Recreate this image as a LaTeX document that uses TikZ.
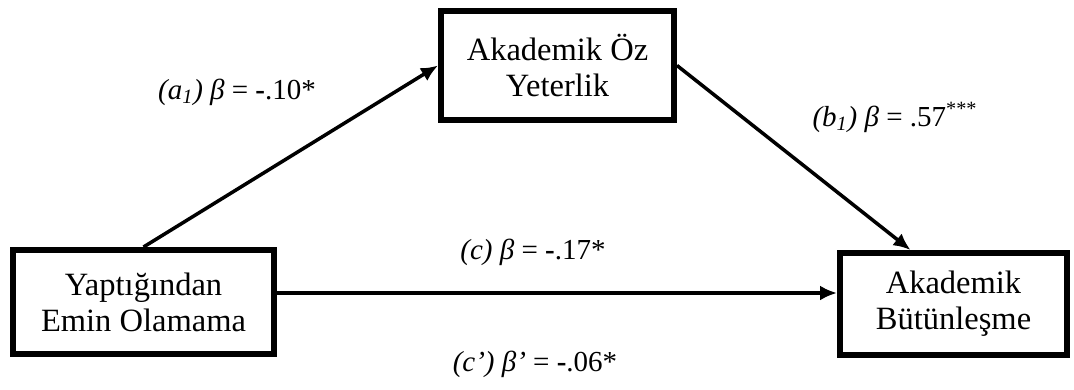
\documentclass[tikz,border=0pt]{standalone}
\usepackage{fontspec}
\setmainfont{Liberation Serif}
\usepackage{tikz}
\usetikzlibrary{arrows.meta, positioning, calc}
\newcommand{\boxfont}{\fontsize{18.5}{20.5}\selectfont}
\newcommand{\coeffont}{\fontsize{16.5}{18}\selectfont}

\begin{document}
\begin{tikzpicture}[
  box/.style={rectangle, draw, line width=3.4pt, inner sep=0pt, minimum height=2.1cm, align=center, font=\boxfont},
  path/.style={-{Latex[length=3.4mm, width=3mm]}, line width=2pt},
  coef/.style={font=\coeffont, inner sep=0pt},
]
  \useasboundingbox (0,0) rectangle (21.48,-7.8);

  \node[box, minimum width=4.66cm, minimum height=2.18cm] (selfeff) at (11.15,-1.31) {Akademik Öz\\Yeterlik};
  \node[box, minimum width=5.22cm, minimum height=2.08cm] (doubt) at (2.87,-6.04) {Yaptığından\\Emin Olamama};
  \node[box, minimum width=4.54cm, minimum height=2.04cm] (integr) at (19.07,-6.08) {Akademik\\Bütünleşme};

  \draw[path] (doubt.north) -- (selfeff.west);
  \draw[path] (selfeff.east) -- ($(integr.north)+(-0.86,0)$);
  \draw[path] ([yshift=0.18cm]doubt.east) -- ([yshift=0.22cm]integr.west);

  \node[coef] (a1) at (4.74,-1.84) {\textit{(a\textsubscript{1}) β} = \textbf{-}.10*};
  \node[coef] (b1) at (17.9,-2.34) {\textit{(b\textsubscript{1}) β} = .57\textsuperscript{***}};
  \node[coef] (c) at (10.66,-5.05) {\textit{(c) β} = \textbf{-}.17*};
  \node[coef] (cp) at (10.7,-7.28) {\textit{(c’) β’} = \textbf{-}.06*};
\end{tikzpicture}
\end{document}
